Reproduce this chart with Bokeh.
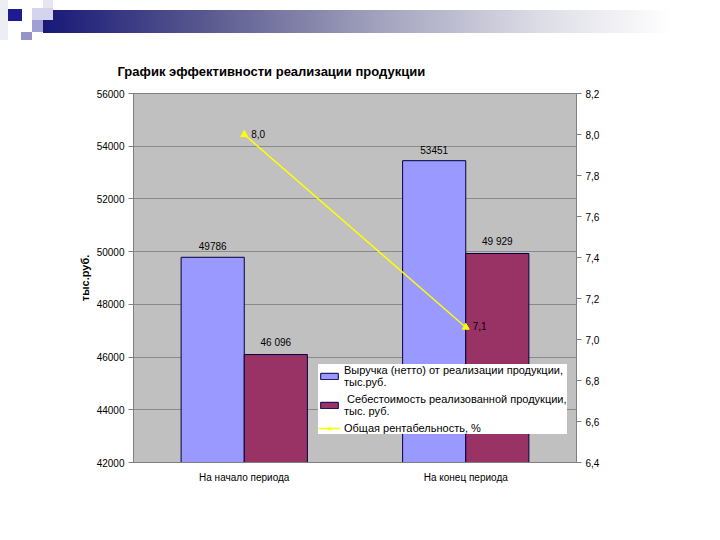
from bokeh.plotting import figure
from bokeh.models import (FactorRange, Range1d, LinearAxis, CustomJSTickFormatter,
                          Legend, LegendItem, ColumnDataSource, SingleIntervalTicker,
                          FixedTicker, Div)
from bokeh.layouts import column
from bokeh.transform import dodge
from bokeh.core.properties import value
from bokeh.embed import file_html
from bokeh.resources import INLINE

categories = ["На начало периода", "На конец периода"]
revenue = [49786, 53451]
cost = [46096, 49929]
profitability = [8.0, 7.06]
revenue_labels = ["49786", "53451"]
cost_labels = ["46 096", "49 929"]
profit_labels = ["8,0", "7,1"]
pct_ticks = [6.4, 6.6, 6.8, 7.0, 7.2, 7.4, 7.6, 7.8, 8.0, 8.2]
series_names = ["Выручка (нетто) от реализации продукции,\nтыс.руб.",
                " Себестоимость реализованной продукции,\nтыс. руб.",
                "Общая рентабельность, %"]
title_text = "График эффективности реализации продукции"
y_label = "тыс.руб."

FONT = "Liberation Sans"
W = 704
BH = 40
H = 524 - BH

# decorative banner at the top of the slide
banner_html = (
    '<div style="position:relative;width:704px;height:40px;overflow:hidden;">'
    '<div style="position:absolute;left:43px;top:10px;width:661px;height:23px;'
    'background:linear-gradient(to right,#181878 0%,#5a5a90 25%,#a0a0bc 50%,#dcdce6 75%,#ffffff 95%);"></div>'
    '<div style="position:absolute;left:0px;top:0px;width:8px;height:40px;background:#eceef4;"></div>'
    '<div style="position:absolute;left:8px;top:9px;width:14px;height:12px;background:#1c1c90;"></div>'
    '<div style="position:absolute;left:32px;top:8px;width:21px;height:12px;background:#d4d4ee;"></div>'
    '<div style="position:absolute;left:43px;top:0px;width:10px;height:8px;background:#e6e6f2;"></div>'
    '<div style="position:absolute;left:32px;top:20px;width:11px;height:12px;background:#a0a0d4;"></div>'
    '<div style="position:absolute;left:21px;top:32px;width:11px;height:8px;background:#9494c8;"></div>'
    '</div>'
)
banner = Div(text=banner_html, width=W, height=BH, margin=(0, 0, 0, 0))

p = figure(width=W, height=H, x_range=FactorRange(*categories),
           y_range=Range1d(42000, 56000), output_backend="svg", toolbar_location=None,
           min_border_left=133, min_border_right=W - 576, min_border_top=93 - BH,
           min_border_bottom=524 - 462, margin=(0, 0, 0, 0))
p.title.text = title_text
p.title.text_font = FONT
p.title.text_font_size = "13px"
p.title.text_font_style = "bold"
p.title.text_color = "black"
p.title.align = "left"
p.title.offset = -16
p.title.standoff = 30

p.background_fill_color = "#c0c0c0"
p.border_fill_color = "white"
p.outline_line_color = "#808080"
p.xgrid.visible = False
p.ygrid.grid_line_color = "#8a8a8a"
p.ygrid.grid_line_width = 1
p.yaxis.ticker = SingleIntervalTicker(interval=2000)
p.extra_y_ranges = {"pct": Range1d(6.4, 8.2)}

src = ColumnDataSource(dict(cat=categories, rev=revenue, cost=cost, pr=profitability,
                            rl=revenue_labels, cl=cost_labels, pl=profit_labels))

r1 = p.vbar(x=dodge("cat", -0.1425, range=p.x_range), top="rev", bottom=42000, width=0.285,
            source=src, fill_color="#9999ff", line_color="#000040", line_width=1)
r2 = p.vbar(x=dodge("cat", 0.1425, range=p.x_range), top="cost", bottom=42000, width=0.285,
            source=src, fill_color="#993366", line_color="#000040", line_width=1)
r3 = p.line(x="cat", y="pr", source=src, y_range_name="pct", line_color="#ffff00", line_width=1.5)
r4 = p.scatter(x="cat", y="pr", source=src, y_range_name="pct", marker="triangle", size=7,
               fill_color="#ffff00", line_color="#ffff00")

p.text(x=dodge("cat", -0.1425, range=p.x_range), y="rev", text="rl", source=src, y_offset=-7,
       text_font=value(FONT), text_font_size="10px", text_align="center",
       text_baseline="bottom", text_color="black")
p.text(x=dodge("cat", 0.1425, range=p.x_range), y="cost", text="cl", source=src, y_offset=-7,
       text_font=value(FONT), text_font_size="10px", text_align="center",
       text_baseline="bottom", text_color="black")
p.text(x="cat", y="pr", text="pl", source=src, y_range_name="pct", x_offset=7, y_offset=-1,
       text_font=value(FONT), text_font_size="10px", text_align="left",
       text_baseline="middle", text_color="black")

ax_r = LinearAxis(y_range_name="pct", ticker=FixedTicker(ticks=pct_ticks),
                  formatter=CustomJSTickFormatter(code="return tick.toFixed(1).replace('.', ',');"))
p.add_layout(ax_r, "right")

for ax in [p.yaxis[0], ax_r]:
    ax.major_label_text_font = FONT
    ax.major_label_text_font_size = "10px"
    ax.major_label_text_color = "black"
    ax.axis_line_color = "#808080"
    ax.major_tick_line_color = "#808080"
    ax.major_tick_out = 5
    ax.major_tick_in = 0
    ax.minor_tick_line_color = None
    ax.major_label_standoff = 4

p.yaxis[0].axis_label = y_label
p.yaxis[0].axis_label_text_font = FONT
p.yaxis[0].axis_label_text_font_size = "11px"
p.yaxis[0].axis_label_text_font_style = "bold"
p.yaxis[0].axis_label_text_color = "black"
p.yaxis[0].axis_label_standoff = 3

p.xaxis.major_label_text_font = FONT
p.xaxis.major_label_text_font_size = "10px"
p.xaxis.major_label_text_color = "black"
p.xaxis.axis_line_color = "#808080"
p.xaxis.major_tick_line_color = None
p.xaxis.major_label_standoff = 3

legend = Legend(items=[LegendItem(label=series_names[0], renderers=[r1]),
                       LegendItem(label=series_names[1], renderers=[r2]),
                       LegendItem(label=series_names[2], renderers=[r3, r4])],
                location=(185, 28))
legend.background_fill_color = "white"
legend.background_fill_alpha = 1
legend.border_line_color = None
legend.label_text_font = FONT
legend.label_text_font_size = "11px"
legend.label_text_color = "black"
legend.label_text_line_height = 1.0
legend.glyph_width = 22
legend.glyph_height = 8
legend.spacing = 5
legend.padding = 9
legend.margin = 0
legend.label_standoff = 4
legend.label_height = 10
p.add_layout(legend, "center")

layout = column(banner, p, spacing=0)
open("out.html", "w").write(file_html(layout, INLINE))
